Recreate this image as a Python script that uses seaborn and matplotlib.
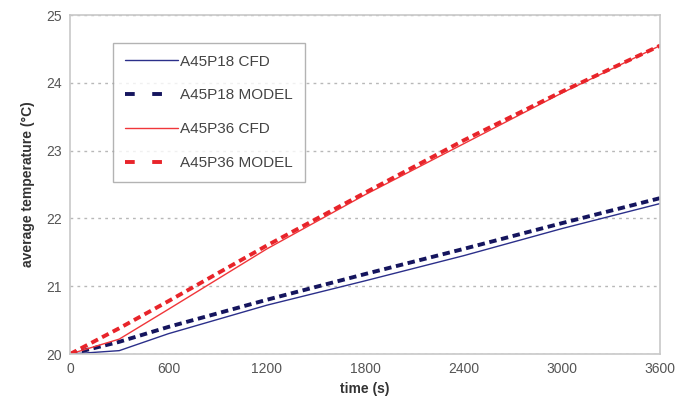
import pandas as pd
import matplotlib
matplotlib.use("Agg")
import matplotlib.pyplot as plt
import seaborn as sns

# time points (s)
time = [0, 300, 600, 1200, 1800, 2400, 3000, 3600]

# average temperatures (°C)
a45p18_cfd = [20.0, 20.05, 20.3, 20.72, 21.08, 21.45, 21.85, 22.22]
a45p18_model = [20.0, 20.18, 20.4, 20.8, 21.18, 21.55, 21.93, 22.3]
a45p36_cfd = [20.0, 20.22, 20.66, 21.55, 22.35, 23.1, 23.85, 24.55]
a45p36_model = [20.0, 20.38, 20.78, 21.6, 22.38, 23.15, 23.87, 24.55]

series_names = ["A45P18 CFD", "A45P18 MODEL", "A45P36 CFD", "A45P36 MODEL"]

sns.set_style("white")
plt.rcParams['font.family'] = ['Liberation Sans', 'DejaVu Sans']

fig = plt.figure(figsize=(6.8, 4.17), dpi=100)
ax = fig.add_axes([0.103, 0.151, 0.868, 0.813])

styles = [
    (a45p18_cfd, "#2b2f8a", "-", 1.0),
    (a45p18_model, "#15155e", (0, (1.9, 1.2)), 2.8),
    (a45p36_cfd, "#f0363a", "-", 1.0),
    (a45p36_model, "#e8242a", (0, (1.9, 1.2)), 2.8),
]
for name, (vals, color, ls, lw) in zip(series_names, styles):
    df = pd.DataFrame({"time": time, "temp": vals})
    sns.lineplot(data=df, x="time", y="temp", ax=ax, color=color,
                 linestyle=ls, linewidth=lw, label=name)

ax.set_xlim(0, 3600)
ax.set_ylim(20, 25)
ax.set_xticks([0, 600, 1200, 1800, 2400, 3000, 3600])
ax.set_yticks([20, 21, 22, 23, 24, 25])
ax.yaxis.grid(True, linestyle=(0, (2, 3)), color="#b8b8b8", linewidth=1)
ax.set_axisbelow(True)

for side in ["left", "bottom", "top", "right"]:
    ax.spines[side].set_color("#c8c8c8")
    ax.spines[side].set_linewidth(1.2)

ax.tick_params(axis="both", labelsize=10, colors="#555555", length=0, pad=6)
ax.set_xlabel("time (s)", fontsize=10, fontweight="bold", color="#333333")
ax.set_ylabel("average temperature (°C)", fontsize=10, fontweight="bold",
              color="#333333", labelpad=8)

leg = ax.legend(loc="upper left", bbox_to_anchor=(0.073, 0.917), fontsize=11,
                frameon=True, fancybox=False, handlelength=3.5,
                labelspacing=1.3, borderpad=0.75, handletextpad=0.15,
                borderaxespad=0)
leg.get_frame().set_edgecolor("#a0a0a0")
leg.get_frame().set_linewidth(1.0)
for t in leg.get_texts():
    t.set_color("#444444")
# legend shows the dashed series as two long dashes
for ln in leg.get_lines()[1::2]:
    ln.set_linestyle((0, (2.5, 4.5)))

fig.savefig("out.png", dpi=100)
